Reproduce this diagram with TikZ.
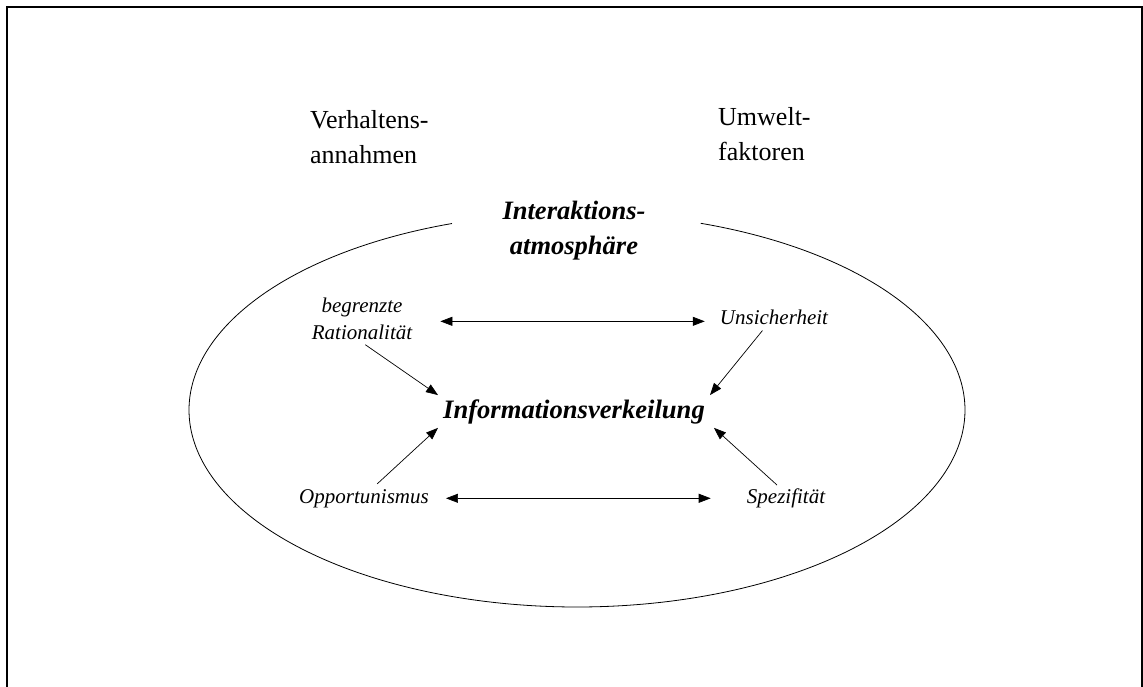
\documentclass[tikz,border=0pt]{standalone}
\usepackage{fontspec}
\setmainfont{Liberation Serif}
\usetikzlibrary{arrows.meta}
\begin{document}
\begin{tikzpicture}[x=1pt,y=-1pt,
  arr/.style={-{Triangle[length=12pt,width=9pt]}, line width=0.7pt},
  darr/.style={{Triangle[length=12pt,width=9pt]}-{Triangle[length=12pt,width=9pt]}, line width=0.7pt},
  headlbl/.style={font=\fontsize{26}{35}\selectfont, inner sep=0pt, align=left},
  titlelbl/.style={font=\fontsize{26.5}{35}\selectfont\bfseries\itshape, inner sep=0pt, align=center},
  corelbl/.style={font=\fontsize{26.6}{30}\selectfont\bfseries\itshape, inner xsep=5pt, inner ysep=4pt},
  factor/.style={font=\fontsize{21}{27}\selectfont\itshape, inner sep=3pt, align=center},
]
\useasboundingbox (0,0) rectangle (1143,686);

% open frame, running past the lower edge
\begin{scope}
  \clip (0,0) rectangle (1143,686);
  \draw[line width=2pt] (7,700) -- (7,7) -- (1142,7) -- (1142,700);
\end{scope}

% ellipse with an opening for the title
\draw[line width=0.8pt] plot[domain=108.8:431.4, samples=240, smooth]
  ({577+388*cos(\x)},{410-197*sin(\x)});

% labels (base anchor = baseline of the last line)
\node[headlbl, anchor=base west] (verh) at (310,163) {Verhaltens-\\annahmen};
\node[headlbl, anchor=base west] (umw) at (718,160) {Umwelt-\\faktoren};
\node[titlelbl, anchor=base] (atm) at (574,254) {Interaktions-\\atmosph\"are};
\node[corelbl, anchor=base] (info) at (574,418) {Informationsverkeilung};

\node[factor, anchor=base] (br) at (362,339) {begrenzte\\Rationalit\"at};
\node[factor, anchor=base] (uns) at (774,324) {Unsicherheit};
\node[factor, anchor=base] (opp) at (364,503) {Opportunismus};
\node[factor, anchor=base] (spez) at (786,503) {Spezifit\"at};

% horizontal links
\path (br.east) ++(0,3) coordinate (brR);
\draw[darr, shorten <=25pt, shorten >=12pt] (brR) -- (brR -| uns.west);
\draw[darr, shorten <=14pt, shorten >=33pt] (opp.east) -- (opp.east -| spez.west);

% influences on the information distribution
\draw[arr, shorten <=4pt] (br.south) -- (info.north west);
\draw[arr, shorten <=4pt] ([xshift=-9pt]uns.south) -- (info.north east);
\draw[arr, shorten <=3pt] ([xshift=11pt]opp.north) -- (info.south west);
\draw[arr] ([xshift=-9pt]spez.north) -- ([xshift=4pt]info.south east);
\end{tikzpicture}
\end{document}
